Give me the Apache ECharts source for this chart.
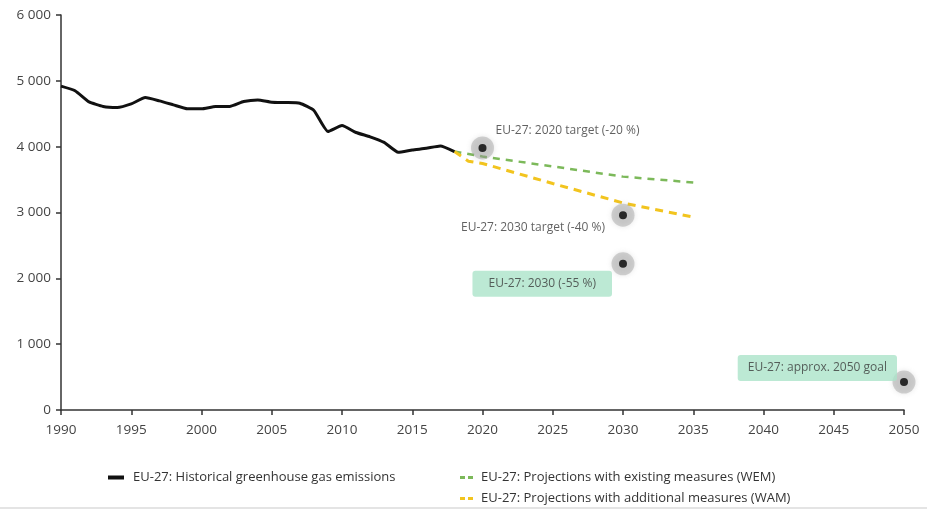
<!DOCTYPE html>
<html>
<head>
<meta charset="utf-8">
<script src="https://cdn.jsdelivr.net/npm/echarts@6/dist/echarts.min.js"></script>
<style>
  html, body { margin: 0; padding: 0; background: #fff; }
  #chart { width: 927px; height: 510px; }
</style>
</head>
<body>
<div id="chart"></div>
<script>
// EU-27 greenhouse gas emissions, Mt CO2 equivalent
const histYears = [1990, 1991, 1992, 1993, 1994, 1995, 1996, 1997, 1998, 1999,
                   2000, 2001, 2002, 2003, 2004, 2005, 2006, 2007, 2008, 2009,
                   2010, 2011, 2012, 2013, 2014, 2015, 2016, 2017, 2018];
const histValues = [4920, 4850, 4680, 4610, 4595, 4650, 4745, 4695, 4635, 4575,
                    4575, 4610, 4610, 4685, 4710, 4675, 4670, 4660, 4550, 4230,
                    4320, 4215, 4150, 4065, 3915, 3950, 3975, 4010, 3925];

const wemYears = [2018, 2020, 2025, 2030, 2035];
const wemValues = [3925, 3850, 3700, 3545, 3455];

const wamYears = [2018, 2019, 2020, 2025, 2030, 2035];
const wamValues = [3925, 3780, 3745, 3440, 3145, 2930];

const targetYears = [2020, 2030, 2030, 2050];
const targetValues = [3980, 2960, 2220, 425];
const targetLabels = ['EU-27: 2020 target (-20 %)', 'EU-27: 2030 target (-40 %)',
                      'EU-27: 2030 (-55 %)', 'EU-27: approx. 2050 goal'];

const seriesNames = ['EU-27: Historical greenhouse gas emissions',
                     'EU-27: Projections with existing measures (WEM)',
                     'EU-27: Projections with additional measures (WAM)'];

const yTicks = [0, 1000, 2000, 3000, 4000, 5000, 6000];

const zip = (xs, ys) => xs.map((x, i) => [x, ys[i]]);
const fmtThousands = v => String(v).replace(/\B(?=(\d{3})+(?!\d))/g, ' ');

const FONT = '"Open Sans", "Noto Sans", sans-serif';
const mint = '#abe3c9';
const GREEN = '#7cb95a';
const YELLOW = '#f2c41e';

// per-point label placement for the target markers
const labelStyles = [
  { align: 'left', offset: [13, -17] },
  { align: 'right', offset: [-18, 12] },
  { align: 'right', offset: [-11, 20], backgroundColor: mint, padding: [7, 16], borderRadius: 3 },
  { align: 'right', offset: [-7, -14], backgroundColor: mint, padding: [7, 10], borderRadius: 3 }
];

const dotData = targetYears.map((y, i) => ({
  value: [y, targetValues[i]],
  label: Object.assign({
    show: true,
    position: 'inside',
    verticalAlign: 'middle',
    formatter: targetLabels[i],
    color: '#3a3a3a',
    fontSize: 12,
    fontFamily: FONT
  }, labelStyles[i])
}));

// legend keys: solid bar for history, two short dashes for projections
const solidIcon = 'path://M0,0H16V4H0Z';
const dashIcon = 'path://M0,0H5V3H0Z M8,0H13V3H8Z';
const legendBase = { symbolKeepAspect: false, itemGap: 0, padding: 0 };
const legendText = pad => ({ color: '#333', fontSize: 13, fontFamily: FONT, padding: [0, 0, 0, pad] });

const chart = echarts.init(document.getElementById('chart'), null, { renderer: 'canvas' });

chart.setOption({
  backgroundColor: '#ffffff',
  animation: false,
  grid: { left: 61, right: 23, top: 15, bottom: 100, containLabel: false },
  xAxis: {
    type: 'value',
    min: 1990, max: 2050, interval: 5,
    axisLine: { show: true, lineStyle: { color: '#333', width: 1.5 } },
    axisTick: { show: true, length: 5, lineStyle: { color: '#333', width: 1.5 } },
    axisLabel: { color: '#444', fontSize: 13.5, fontFamily: FONT, margin: 13, formatter: v => String(v) },
    splitLine: { show: false }
  },
  yAxis: {
    type: 'value',
    min: yTicks[0], max: yTicks[yTicks.length - 1], interval: 1000,
    axisLine: { show: true, lineStyle: { color: '#333', width: 1.5 } },
    axisTick: { show: true, length: 5, lineStyle: { color: '#333', width: 1.5 } },
    axisLabel: { color: '#444', fontSize: 13.5, fontFamily: FONT, margin: 10, formatter: v => fmtThousands(v) },
    splitLine: { show: false }
  },
  legend: [
    Object.assign({}, legendBase, {
      data: [{ name: seriesNames[0], icon: solidIcon }],
      left: 108, top: 471, itemWidth: 16, itemHeight: 4, textStyle: legendText(4)
    }),
    Object.assign({}, legendBase, {
      data: [{ name: seriesNames[1], icon: dashIcon }],
      left: 460, top: 471, itemWidth: 13, itemHeight: 3, textStyle: legendText(3)
    }),
    Object.assign({}, legendBase, {
      data: [{ name: seriesNames[2], icon: dashIcon }],
      left: 460, top: 492, itemWidth: 13, itemHeight: 3, textStyle: legendText(3)
    })
  ],
  graphic: [
    { type: 'line', shape: { x1: 0, y1: 508, x2: 927, y2: 508 },
      style: { stroke: '#e4e4e4', lineWidth: 2 } }
  ],
  series: [
    {
      name: seriesNames[1],
      type: 'line',
      data: zip(wemYears, wemValues),
      showSymbol: false, symbol: 'none',
      lineStyle: { color: GREEN, width: 2.5, type: [7, 6] },
      itemStyle: { color: GREEN },
      z: 3
    },
    {
      name: seriesNames[2],
      type: 'line',
      data: zip(wamYears, wamValues),
      showSymbol: false, symbol: 'none',
      lineStyle: { color: YELLOW, width: 3, type: [8, 6] },
      itemStyle: { color: YELLOW },
      z: 3
    },
    {
      name: seriesNames[0],
      type: 'line',
      data: zip(histYears, histValues),
      showSymbol: false, symbol: 'none',
      smooth: 0.15,
      lineStyle: { color: '#111', width: 3 },
      itemStyle: { color: '#111' },
      z: 4
    },
    {
      name: 'halo',
      type: 'scatter',
      data: zip(targetYears, targetValues),
      symbolSize: 23,
      itemStyle: { color: 'rgba(150,150,150,0.5)', shadowBlur: 5, shadowColor: 'rgba(150,150,150,0.6)' },
      silent: true,
      z: 5
    },
    {
      name: 'targets',
      type: 'scatter',
      data: dotData,
      symbolSize: 8,
      itemStyle: { color: '#000' },
      z: 6
    }
  ]
});
</script>
</body>
</html>
